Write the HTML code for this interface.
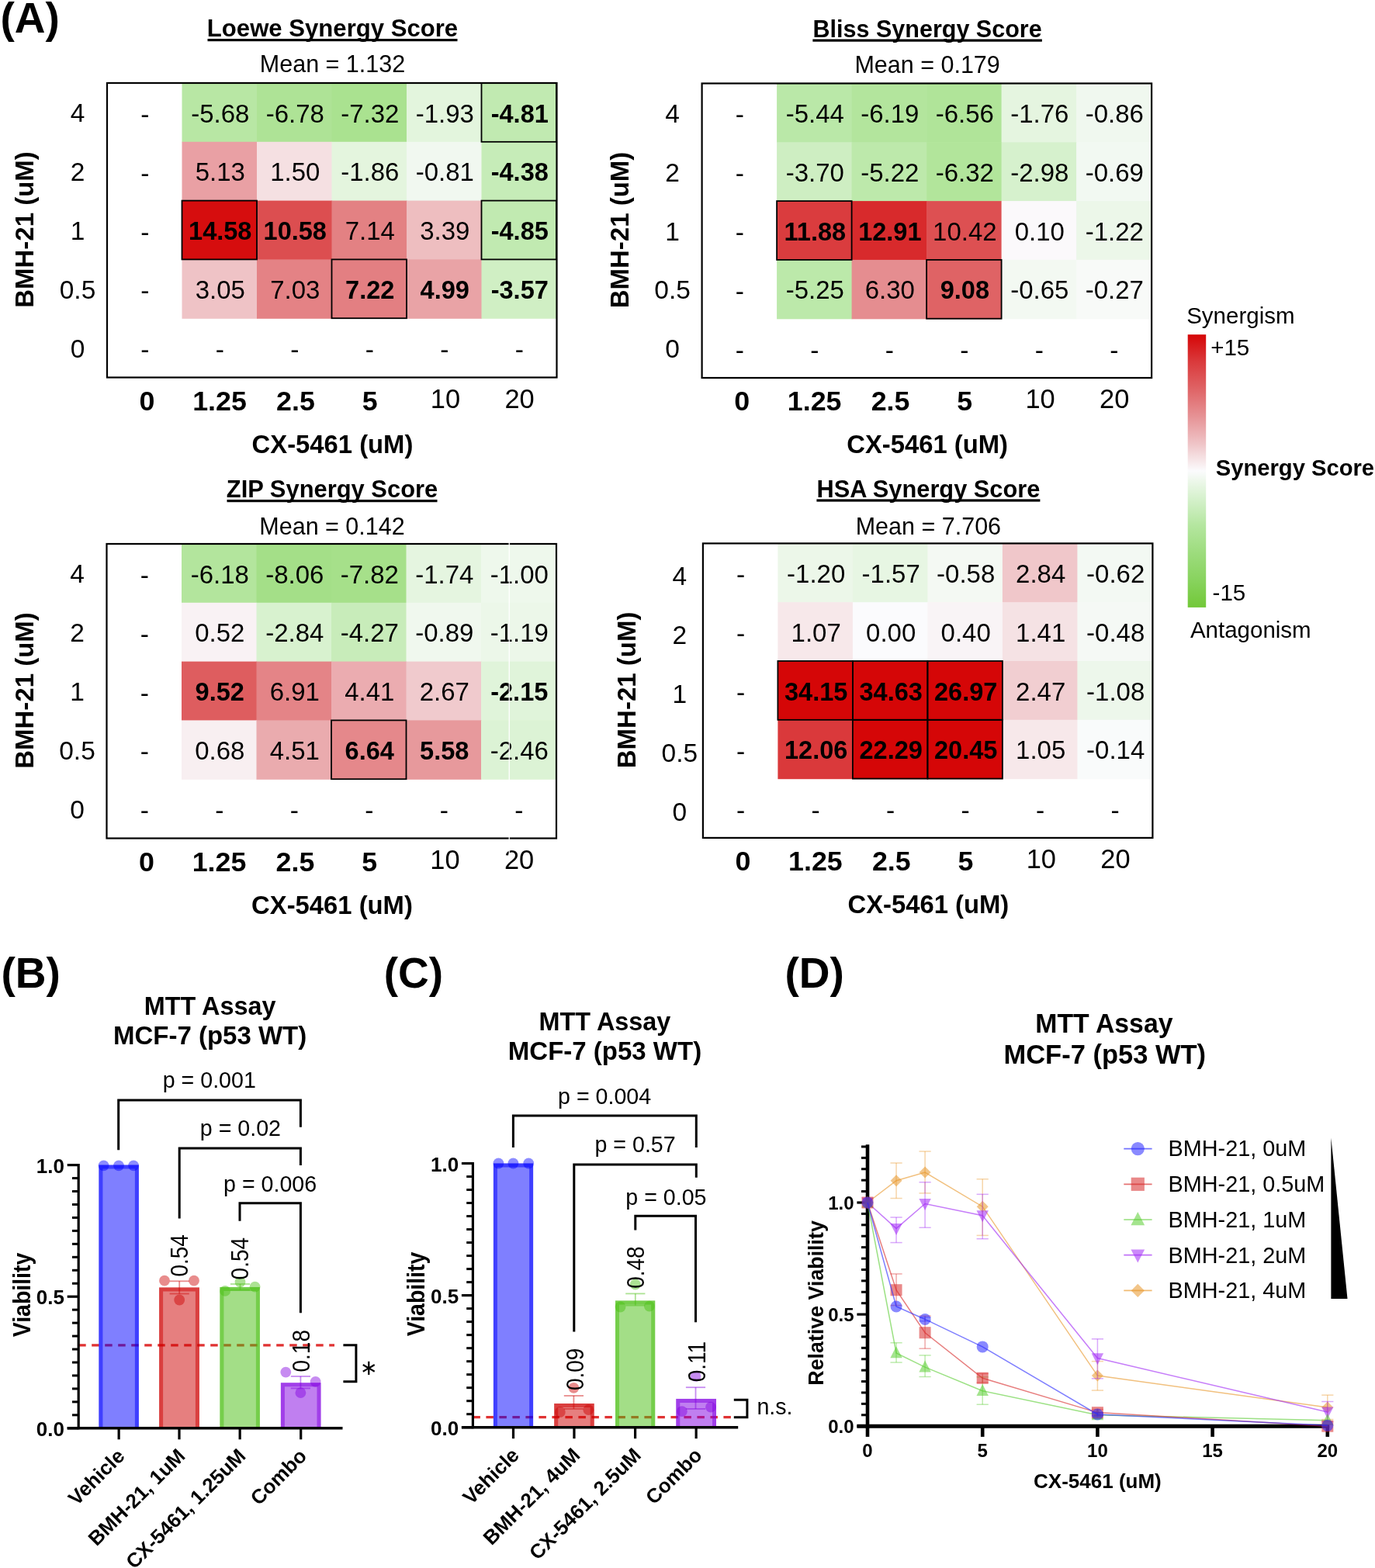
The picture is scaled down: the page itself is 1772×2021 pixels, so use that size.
<!DOCTYPE html>
<html><head><meta charset="utf-8"><title>Figure</title>
<style>
html,body{margin:0;padding:0;background:#fff;}
svg{display:block;}
text{font-family:"Liberation Sans", Arial, sans-serif;}
</style></head>
<body>
<svg width="1772" height="2021" viewBox="0 0 1772 2021">
<rect x="0" y="0" width="1772" height="2021" fill="#fff"/>
<text x="0.40" y="42.30" font-size="55" font-weight="bold" text-anchor="start" fill="#000">(A)</text>
<rect x="234.50" y="107.00" width="97.10" height="76.40" fill="#B8E7A4"/>
<rect x="331.00" y="107.00" width="97.10" height="76.40" fill="#AEE396"/>
<rect x="427.50" y="107.00" width="97.10" height="76.40" fill="#AAE290"/>
<rect x="524.00" y="107.00" width="97.10" height="76.40" fill="#E3F5DD"/>
<rect x="620.50" y="107.00" width="97.10" height="76.40" fill="#C1EAB1"/>
<rect x="234.50" y="182.80" width="97.10" height="76.40" fill="#E9A0A4"/>
<rect x="331.00" y="182.80" width="97.10" height="76.40" fill="#F5E0E2"/>
<rect x="427.50" y="182.80" width="97.10" height="76.40" fill="#E4F5DE"/>
<rect x="524.00" y="182.80" width="97.10" height="76.40" fill="#F1F8F0"/>
<rect x="620.50" y="182.80" width="97.10" height="76.40" fill="#C6ECB8"/>
<rect x="234.50" y="258.60" width="97.10" height="76.40" fill="#D60D0E"/>
<rect x="331.00" y="258.60" width="97.10" height="76.40" fill="#DC4E50"/>
<rect x="427.50" y="258.60" width="97.10" height="76.40" fill="#E38183"/>
<rect x="524.00" y="258.60" width="97.10" height="76.40" fill="#EEBEC0"/>
<rect x="620.50" y="258.60" width="97.10" height="76.40" fill="#C1EAB1"/>
<rect x="234.50" y="334.40" width="97.10" height="76.40" fill="#EFC3C6"/>
<rect x="331.00" y="334.40" width="97.10" height="76.40" fill="#E48285"/>
<rect x="427.50" y="334.40" width="97.10" height="76.40" fill="#E37F82"/>
<rect x="524.00" y="334.40" width="97.10" height="76.40" fill="#E9A3A6"/>
<rect x="620.50" y="334.40" width="97.10" height="76.40" fill="#D0EFC4"/>
<text x="186.75" y="158.90" font-size="33.5" text-anchor="middle" fill="#000">-</text>
<text transform="translate(283.75,157.50) scale(0.985,1)" font-size="33.5" text-anchor="middle">-5.68</text>
<text transform="translate(380.25,157.50) scale(0.985,1)" font-size="33.5" text-anchor="middle">-6.78</text>
<text transform="translate(476.75,157.50) scale(0.985,1)" font-size="33.5" text-anchor="middle">-7.32</text>
<text transform="translate(573.25,157.50) scale(0.985,1)" font-size="33.5" text-anchor="middle">-1.93</text>
<text transform="translate(669.75,157.50) scale(0.972,1)" font-size="33.5" font-weight="bold" text-anchor="middle">-4.81</text>
<text x="186.75" y="234.70" font-size="33.5" text-anchor="middle" fill="#000">-</text>
<text transform="translate(283.75,233.30) scale(0.985,1)" font-size="33.5" text-anchor="middle">5.13</text>
<text transform="translate(380.25,233.30) scale(0.985,1)" font-size="33.5" text-anchor="middle">1.50</text>
<text transform="translate(476.75,233.30) scale(0.985,1)" font-size="33.5" text-anchor="middle">-1.86</text>
<text transform="translate(573.25,233.30) scale(0.985,1)" font-size="33.5" text-anchor="middle">-0.81</text>
<text transform="translate(669.75,233.30) scale(0.972,1)" font-size="33.5" font-weight="bold" text-anchor="middle">-4.38</text>
<text x="186.75" y="310.50" font-size="33.5" text-anchor="middle" fill="#000">-</text>
<text transform="translate(283.75,309.10) scale(0.972,1)" font-size="33.5" font-weight="bold" text-anchor="middle">14.58</text>
<text transform="translate(380.25,309.10) scale(0.972,1)" font-size="33.5" font-weight="bold" text-anchor="middle">10.58</text>
<text transform="translate(476.75,309.10) scale(0.985,1)" font-size="33.5" text-anchor="middle">7.14</text>
<text transform="translate(573.25,309.10) scale(0.985,1)" font-size="33.5" text-anchor="middle">3.39</text>
<text transform="translate(669.75,309.10) scale(0.972,1)" font-size="33.5" font-weight="bold" text-anchor="middle">-4.85</text>
<text x="186.75" y="386.30" font-size="33.5" text-anchor="middle" fill="#000">-</text>
<text transform="translate(283.75,384.90) scale(0.985,1)" font-size="33.5" text-anchor="middle">3.05</text>
<text transform="translate(380.25,384.90) scale(0.985,1)" font-size="33.5" text-anchor="middle">7.03</text>
<text transform="translate(476.75,384.90) scale(0.972,1)" font-size="33.5" font-weight="bold" text-anchor="middle">7.22</text>
<text transform="translate(573.25,384.90) scale(0.972,1)" font-size="33.5" font-weight="bold" text-anchor="middle">4.99</text>
<text transform="translate(669.75,384.90) scale(0.972,1)" font-size="33.5" font-weight="bold" text-anchor="middle">-3.57</text>
<text x="186.75" y="462.10" font-size="33.5" text-anchor="middle" fill="#000">-</text>
<text x="283.25" y="462.10" font-size="33.5" text-anchor="middle" fill="#000">-</text>
<text x="379.75" y="462.10" font-size="33.5" text-anchor="middle" fill="#000">-</text>
<text x="476.25" y="462.10" font-size="33.5" text-anchor="middle" fill="#000">-</text>
<text x="572.75" y="462.10" font-size="33.5" text-anchor="middle" fill="#000">-</text>
<text x="669.25" y="462.10" font-size="33.5" text-anchor="middle" fill="#000">-</text>
<rect x="620.50" y="107.00" width="96.50" height="75.80" fill="none" stroke="#000" stroke-width="1.8"/>
<rect x="234.50" y="258.60" width="96.50" height="75.80" fill="none" stroke="#000" stroke-width="1.8"/>
<rect x="620.50" y="258.60" width="96.50" height="75.80" fill="none" stroke="#000" stroke-width="1.8"/>
<rect x="427.50" y="334.40" width="96.50" height="75.80" fill="none" stroke="#000" stroke-width="1.8"/>
<rect x="138.00" y="107.00" width="579.50" height="379.50" fill="none" stroke="#000" stroke-width="2.2"/>
<text transform="translate(428.50,47.20) scale(1.004,1)" font-size="31" font-weight="bold" text-anchor="middle">Loewe Synergy Score</text>
<rect x="267.50" y="50.00" width="322.00" height="3.20" fill="#000"/>
<text x="428.50" y="93.30" font-size="30.5" text-anchor="middle" fill="#000">Mean = 1.132</text>
<text x="100.00" y="157.40" font-size="33.5" text-anchor="middle" fill="#000">4</text>
<text x="100.00" y="233.20" font-size="33.5" text-anchor="middle" fill="#000">2</text>
<text x="100.00" y="309.00" font-size="33.5" text-anchor="middle" fill="#000">1</text>
<text x="100.00" y="384.80" font-size="33.5" text-anchor="middle" fill="#000">0.5</text>
<text x="100.00" y="460.60" font-size="33.5" text-anchor="middle" fill="#000">0</text>
<text x="189.55" y="528.60" font-size="35.8" font-weight="bold" text-anchor="middle" fill="#000">0</text>
<text x="283.05" y="528.60" font-size="35.8" font-weight="bold" text-anchor="middle" fill="#000">1.25</text>
<text x="380.95" y="528.60" font-size="35.8" font-weight="bold" text-anchor="middle" fill="#000">2.5</text>
<text x="476.65" y="528.60" font-size="35.8" font-weight="bold" text-anchor="middle" fill="#000">5</text>
<text x="573.95" y="525.90" font-size="34.4" text-anchor="middle" fill="#000">10</text>
<text x="669.55" y="525.90" font-size="34.4" text-anchor="middle" fill="#000">20</text>
<text x="428.50" y="583.70" font-size="32.8" font-weight="bold" text-anchor="middle" fill="#000">CX-5461 (uM)</text>
<text transform="translate(43.30,296.00) rotate(-90)" font-size="33" font-weight="bold" text-anchor="middle" fill="#000">BMH-21 (uM)</text>
<rect x="1001.10" y="107.50" width="97.10" height="76.40" fill="#BAE8A8"/>
<rect x="1097.60" y="107.50" width="97.10" height="76.40" fill="#B3E59D"/>
<rect x="1194.10" y="107.50" width="97.10" height="76.40" fill="#B0E499"/>
<rect x="1290.60" y="107.50" width="97.10" height="76.40" fill="#E5F5E0"/>
<rect x="1387.10" y="107.50" width="97.10" height="76.40" fill="#F0F8EF"/>
<rect x="1001.10" y="183.30" width="97.10" height="76.40" fill="#CEEEC2"/>
<rect x="1097.60" y="183.30" width="97.10" height="76.40" fill="#BDE9AB"/>
<rect x="1194.10" y="183.30" width="97.10" height="76.40" fill="#B2E59B"/>
<rect x="1290.60" y="183.30" width="97.10" height="76.40" fill="#D6F1CD"/>
<rect x="1387.10" y="183.30" width="97.10" height="76.40" fill="#F2F9F2"/>
<rect x="1001.10" y="259.10" width="97.10" height="76.40" fill="#DA3C3E"/>
<rect x="1097.60" y="259.10" width="97.10" height="76.40" fill="#D82A2C"/>
<rect x="1194.10" y="259.10" width="97.10" height="76.40" fill="#DD5052"/>
<rect x="1290.60" y="259.10" width="97.10" height="76.40" fill="#FBF9FB"/>
<rect x="1387.10" y="259.10" width="97.10" height="76.40" fill="#ECF7E9"/>
<rect x="1001.10" y="334.90" width="97.10" height="76.40" fill="#BCE9AA"/>
<rect x="1097.60" y="334.90" width="97.10" height="76.40" fill="#E58D90"/>
<rect x="1194.10" y="334.90" width="97.10" height="76.40" fill="#DF6365"/>
<rect x="1290.60" y="334.90" width="97.10" height="76.40" fill="#F3F9F2"/>
<rect x="1387.10" y="334.90" width="97.10" height="76.40" fill="#F8FAF8"/>
<text x="953.35" y="159.40" font-size="33.5" text-anchor="middle" fill="#000">-</text>
<text transform="translate(1050.35,158.00) scale(0.985,1)" font-size="33.5" text-anchor="middle">-5.44</text>
<text transform="translate(1146.85,158.00) scale(0.985,1)" font-size="33.5" text-anchor="middle">-6.19</text>
<text transform="translate(1243.35,158.00) scale(0.985,1)" font-size="33.5" text-anchor="middle">-6.56</text>
<text transform="translate(1339.85,158.00) scale(0.985,1)" font-size="33.5" text-anchor="middle">-1.76</text>
<text transform="translate(1436.35,158.00) scale(0.985,1)" font-size="33.5" text-anchor="middle">-0.86</text>
<text x="953.35" y="235.20" font-size="33.5" text-anchor="middle" fill="#000">-</text>
<text transform="translate(1050.35,233.80) scale(0.985,1)" font-size="33.5" text-anchor="middle">-3.70</text>
<text transform="translate(1146.85,233.80) scale(0.985,1)" font-size="33.5" text-anchor="middle">-5.22</text>
<text transform="translate(1243.35,233.80) scale(0.985,1)" font-size="33.5" text-anchor="middle">-6.32</text>
<text transform="translate(1339.85,233.80) scale(0.985,1)" font-size="33.5" text-anchor="middle">-2.98</text>
<text transform="translate(1436.35,233.80) scale(0.985,1)" font-size="33.5" text-anchor="middle">-0.69</text>
<text x="953.35" y="311.00" font-size="33.5" text-anchor="middle" fill="#000">-</text>
<text transform="translate(1050.35,309.60) scale(0.972,1)" font-size="33.5" font-weight="bold" text-anchor="middle">11.88</text>
<text transform="translate(1146.85,309.60) scale(0.972,1)" font-size="33.5" font-weight="bold" text-anchor="middle">12.91</text>
<text transform="translate(1243.35,309.60) scale(0.985,1)" font-size="33.5" text-anchor="middle">10.42</text>
<text transform="translate(1339.85,309.60) scale(0.985,1)" font-size="33.5" text-anchor="middle">0.10</text>
<text transform="translate(1436.35,309.60) scale(0.985,1)" font-size="33.5" text-anchor="middle">-1.22</text>
<text x="953.35" y="386.80" font-size="33.5" text-anchor="middle" fill="#000">-</text>
<text transform="translate(1050.35,385.40) scale(0.985,1)" font-size="33.5" text-anchor="middle">-5.25</text>
<text transform="translate(1146.85,385.40) scale(0.985,1)" font-size="33.5" text-anchor="middle">6.30</text>
<text transform="translate(1243.35,385.40) scale(0.972,1)" font-size="33.5" font-weight="bold" text-anchor="middle">9.08</text>
<text transform="translate(1339.85,385.40) scale(0.985,1)" font-size="33.5" text-anchor="middle">-0.65</text>
<text transform="translate(1436.35,385.40) scale(0.985,1)" font-size="33.5" text-anchor="middle">-0.27</text>
<text x="953.35" y="462.60" font-size="33.5" text-anchor="middle" fill="#000">-</text>
<text x="1049.85" y="462.60" font-size="33.5" text-anchor="middle" fill="#000">-</text>
<text x="1146.35" y="462.60" font-size="33.5" text-anchor="middle" fill="#000">-</text>
<text x="1242.85" y="462.60" font-size="33.5" text-anchor="middle" fill="#000">-</text>
<text x="1339.35" y="462.60" font-size="33.5" text-anchor="middle" fill="#000">-</text>
<text x="1435.85" y="462.60" font-size="33.5" text-anchor="middle" fill="#000">-</text>
<rect x="1001.10" y="259.10" width="96.50" height="75.80" fill="none" stroke="#000" stroke-width="1.8"/>
<rect x="1194.10" y="334.90" width="96.50" height="75.80" fill="none" stroke="#000" stroke-width="1.8"/>
<rect x="904.60" y="107.50" width="579.50" height="379.50" fill="none" stroke="#000" stroke-width="2.2"/>
<text transform="translate(1195.10,47.70) scale(0.985,1)" font-size="31" font-weight="bold" text-anchor="middle">Bliss Synergy Score</text>
<rect x="1047.35" y="50.50" width="295.50" height="3.20" fill="#000"/>
<text x="1195.10" y="93.80" font-size="30.5" text-anchor="middle" fill="#000">Mean = 0.179</text>
<text x="866.60" y="157.90" font-size="33.5" text-anchor="middle" fill="#000">4</text>
<text x="866.60" y="233.70" font-size="33.5" text-anchor="middle" fill="#000">2</text>
<text x="866.60" y="309.50" font-size="33.5" text-anchor="middle" fill="#000">1</text>
<text x="866.60" y="385.30" font-size="33.5" text-anchor="middle" fill="#000">0.5</text>
<text x="866.60" y="461.10" font-size="33.5" text-anchor="middle" fill="#000">0</text>
<text x="956.15" y="529.10" font-size="35.8" font-weight="bold" text-anchor="middle" fill="#000">0</text>
<text x="1049.65" y="529.10" font-size="35.8" font-weight="bold" text-anchor="middle" fill="#000">1.25</text>
<text x="1147.55" y="529.10" font-size="35.8" font-weight="bold" text-anchor="middle" fill="#000">2.5</text>
<text x="1243.25" y="529.10" font-size="35.8" font-weight="bold" text-anchor="middle" fill="#000">5</text>
<text x="1340.55" y="526.40" font-size="34.4" text-anchor="middle" fill="#000">10</text>
<text x="1436.15" y="526.40" font-size="34.4" text-anchor="middle" fill="#000">20</text>
<text x="1195.10" y="584.20" font-size="32.8" font-weight="bold" text-anchor="middle" fill="#000">CX-5461 (uM)</text>
<text transform="translate(809.90,296.50) rotate(-90)" font-size="33" font-weight="bold" text-anchor="middle" fill="#000">BMH-21 (uM)</text>
<rect x="234.00" y="701.00" width="97.10" height="76.40" fill="#B3E59D"/>
<rect x="330.50" y="701.00" width="97.10" height="76.40" fill="#A4DF88"/>
<rect x="427.00" y="701.00" width="97.10" height="76.40" fill="#A6E08A"/>
<rect x="523.50" y="701.00" width="97.10" height="76.40" fill="#E5F5E0"/>
<rect x="620.00" y="701.00" width="97.10" height="76.40" fill="#EEF8EC"/>
<rect x="234.00" y="776.80" width="97.10" height="76.40" fill="#F9F2F4"/>
<rect x="330.50" y="776.80" width="97.10" height="76.40" fill="#D8F2CF"/>
<rect x="427.00" y="776.80" width="97.10" height="76.40" fill="#C8ECBA"/>
<rect x="523.50" y="776.80" width="97.10" height="76.40" fill="#F0F8EE"/>
<rect x="620.00" y="776.80" width="97.10" height="76.40" fill="#ECF7E9"/>
<rect x="234.00" y="852.60" width="97.10" height="76.40" fill="#DE5D5F"/>
<rect x="330.50" y="852.60" width="97.10" height="76.40" fill="#E48487"/>
<rect x="427.00" y="852.60" width="97.10" height="76.40" fill="#EBACB0"/>
<rect x="523.50" y="852.60" width="97.10" height="76.40" fill="#F0CACD"/>
<rect x="620.00" y="852.60" width="97.10" height="76.40" fill="#E0F4DA"/>
<rect x="234.00" y="928.40" width="97.10" height="76.40" fill="#F8EFF1"/>
<rect x="330.50" y="928.40" width="97.10" height="76.40" fill="#EAABAE"/>
<rect x="427.00" y="928.40" width="97.10" height="76.40" fill="#E5888B"/>
<rect x="523.50" y="928.40" width="97.10" height="76.40" fill="#E7999C"/>
<rect x="620.00" y="928.40" width="97.10" height="76.40" fill="#DCF3D5"/>
<text x="186.25" y="752.90" font-size="33.5" text-anchor="middle" fill="#000">-</text>
<text transform="translate(283.25,751.50) scale(0.985,1)" font-size="33.5" text-anchor="middle">-6.18</text>
<text transform="translate(379.75,751.50) scale(0.985,1)" font-size="33.5" text-anchor="middle">-8.06</text>
<text transform="translate(476.25,751.50) scale(0.985,1)" font-size="33.5" text-anchor="middle">-7.82</text>
<text transform="translate(572.75,751.50) scale(0.985,1)" font-size="33.5" text-anchor="middle">-1.74</text>
<text transform="translate(669.25,751.50) scale(0.985,1)" font-size="33.5" text-anchor="middle">-1.00</text>
<text x="186.25" y="828.70" font-size="33.5" text-anchor="middle" fill="#000">-</text>
<text transform="translate(283.25,827.30) scale(0.985,1)" font-size="33.5" text-anchor="middle">0.52</text>
<text transform="translate(379.75,827.30) scale(0.985,1)" font-size="33.5" text-anchor="middle">-2.84</text>
<text transform="translate(476.25,827.30) scale(0.985,1)" font-size="33.5" text-anchor="middle">-4.27</text>
<text transform="translate(572.75,827.30) scale(0.985,1)" font-size="33.5" text-anchor="middle">-0.89</text>
<text transform="translate(669.25,827.30) scale(0.985,1)" font-size="33.5" text-anchor="middle">-1.19</text>
<text x="186.25" y="904.50" font-size="33.5" text-anchor="middle" fill="#000">-</text>
<text transform="translate(283.25,903.10) scale(0.972,1)" font-size="33.5" font-weight="bold" text-anchor="middle">9.52</text>
<text transform="translate(379.75,903.10) scale(0.985,1)" font-size="33.5" text-anchor="middle">6.91</text>
<text transform="translate(476.25,903.10) scale(0.985,1)" font-size="33.5" text-anchor="middle">4.41</text>
<text transform="translate(572.75,903.10) scale(0.985,1)" font-size="33.5" text-anchor="middle">2.67</text>
<text transform="translate(669.25,903.10) scale(0.972,1)" font-size="33.5" font-weight="bold" text-anchor="middle">-2.15</text>
<text x="186.25" y="980.30" font-size="33.5" text-anchor="middle" fill="#000">-</text>
<text transform="translate(283.25,978.90) scale(0.985,1)" font-size="33.5" text-anchor="middle">0.68</text>
<text transform="translate(379.75,978.90) scale(0.985,1)" font-size="33.5" text-anchor="middle">4.51</text>
<text transform="translate(476.25,978.90) scale(0.972,1)" font-size="33.5" font-weight="bold" text-anchor="middle">6.64</text>
<text transform="translate(572.75,978.90) scale(0.972,1)" font-size="33.5" font-weight="bold" text-anchor="middle">5.58</text>
<text transform="translate(669.25,978.90) scale(0.985,1)" font-size="33.5" text-anchor="middle">-2.46</text>
<text x="186.25" y="1056.10" font-size="33.5" text-anchor="middle" fill="#000">-</text>
<text x="282.75" y="1056.10" font-size="33.5" text-anchor="middle" fill="#000">-</text>
<text x="379.25" y="1056.10" font-size="33.5" text-anchor="middle" fill="#000">-</text>
<text x="475.75" y="1056.10" font-size="33.5" text-anchor="middle" fill="#000">-</text>
<text x="572.25" y="1056.10" font-size="33.5" text-anchor="middle" fill="#000">-</text>
<text x="668.75" y="1056.10" font-size="33.5" text-anchor="middle" fill="#000">-</text>
<rect x="427.00" y="928.40" width="96.50" height="75.80" fill="none" stroke="#000" stroke-width="1.8"/>
<rect x="137.50" y="701.00" width="579.50" height="379.50" fill="none" stroke="#000" stroke-width="2.2"/>
<text transform="translate(428.00,641.20) scale(0.997,1)" font-size="31" font-weight="bold" text-anchor="middle">ZIP Synergy Score</text>
<rect x="292.50" y="644.00" width="271.00" height="3.20" fill="#000"/>
<text x="428.00" y="688.60" font-size="30.5" text-anchor="middle" fill="#000">Mean = 0.142</text>
<text x="99.50" y="751.40" font-size="33.5" text-anchor="middle" fill="#000">4</text>
<text x="99.50" y="827.20" font-size="33.5" text-anchor="middle" fill="#000">2</text>
<text x="99.50" y="903.00" font-size="33.5" text-anchor="middle" fill="#000">1</text>
<text x="99.50" y="978.80" font-size="33.5" text-anchor="middle" fill="#000">0.5</text>
<text x="99.50" y="1054.60" font-size="33.5" text-anchor="middle" fill="#000">0</text>
<text x="189.05" y="1122.60" font-size="35.8" font-weight="bold" text-anchor="middle" fill="#000">0</text>
<text x="282.55" y="1122.60" font-size="35.8" font-weight="bold" text-anchor="middle" fill="#000">1.25</text>
<text x="380.45" y="1122.60" font-size="35.8" font-weight="bold" text-anchor="middle" fill="#000">2.5</text>
<text x="476.15" y="1122.60" font-size="35.8" font-weight="bold" text-anchor="middle" fill="#000">5</text>
<text x="573.45" y="1119.90" font-size="34.4" text-anchor="middle" fill="#000">10</text>
<text x="669.05" y="1119.90" font-size="34.4" text-anchor="middle" fill="#000">20</text>
<text x="428.00" y="1177.70" font-size="32.8" font-weight="bold" text-anchor="middle" fill="#000">CX-5461 (uM)</text>
<text transform="translate(42.80,890.00) rotate(-90)" font-size="33" font-weight="bold" text-anchor="middle" fill="#000">BMH-21 (uM)</text>
<rect x="1002.40" y="700.40" width="97.10" height="76.40" fill="#ECF7E9"/>
<rect x="1098.90" y="700.40" width="97.10" height="76.40" fill="#E7F6E3"/>
<rect x="1195.40" y="700.40" width="97.10" height="76.40" fill="#F4F9F3"/>
<rect x="1291.90" y="700.40" width="97.10" height="76.40" fill="#F0C7CA"/>
<rect x="1388.40" y="700.40" width="97.10" height="76.40" fill="#F3F9F3"/>
<rect x="1002.40" y="776.20" width="97.10" height="76.40" fill="#F7E8EA"/>
<rect x="1098.90" y="776.20" width="97.10" height="76.40" fill="#FBFBFD"/>
<rect x="1195.40" y="776.20" width="97.10" height="76.40" fill="#F9F4F6"/>
<rect x="1291.90" y="776.20" width="97.10" height="76.40" fill="#F5E2E4"/>
<rect x="1388.40" y="776.20" width="97.10" height="76.40" fill="#F5F9F5"/>
<rect x="1002.40" y="852.00" width="97.10" height="76.40" fill="#D50607"/>
<rect x="1098.90" y="852.00" width="97.10" height="76.40" fill="#D50607"/>
<rect x="1195.40" y="852.00" width="97.10" height="76.40" fill="#D50607"/>
<rect x="1291.90" y="852.00" width="97.10" height="76.40" fill="#F1CED1"/>
<rect x="1388.40" y="852.00" width="97.10" height="76.40" fill="#EDF7EB"/>
<rect x="1002.40" y="927.80" width="97.10" height="76.40" fill="#DA393B"/>
<rect x="1098.90" y="927.80" width="97.10" height="76.40" fill="#D50607"/>
<rect x="1195.40" y="927.80" width="97.10" height="76.40" fill="#D50607"/>
<rect x="1291.90" y="927.80" width="97.10" height="76.40" fill="#F7E8EA"/>
<rect x="1388.40" y="927.80" width="97.10" height="76.40" fill="#F9FBFB"/>
<text x="954.65" y="752.30" font-size="33.5" text-anchor="middle" fill="#000">-</text>
<text transform="translate(1051.65,750.90) scale(0.985,1)" font-size="33.5" text-anchor="middle">-1.20</text>
<text transform="translate(1148.15,750.90) scale(0.985,1)" font-size="33.5" text-anchor="middle">-1.57</text>
<text transform="translate(1244.65,750.90) scale(0.985,1)" font-size="33.5" text-anchor="middle">-0.58</text>
<text transform="translate(1341.15,750.90) scale(0.985,1)" font-size="33.5" text-anchor="middle">2.84</text>
<text transform="translate(1437.65,750.90) scale(0.985,1)" font-size="33.5" text-anchor="middle">-0.62</text>
<text x="954.65" y="828.10" font-size="33.5" text-anchor="middle" fill="#000">-</text>
<text transform="translate(1051.65,826.70) scale(0.985,1)" font-size="33.5" text-anchor="middle">1.07</text>
<text transform="translate(1148.15,826.70) scale(0.985,1)" font-size="33.5" text-anchor="middle">0.00</text>
<text transform="translate(1244.65,826.70) scale(0.985,1)" font-size="33.5" text-anchor="middle">0.40</text>
<text transform="translate(1341.15,826.70) scale(0.985,1)" font-size="33.5" text-anchor="middle">1.41</text>
<text transform="translate(1437.65,826.70) scale(0.985,1)" font-size="33.5" text-anchor="middle">-0.48</text>
<text x="954.65" y="903.90" font-size="33.5" text-anchor="middle" fill="#000">-</text>
<text transform="translate(1051.65,902.50) scale(0.972,1)" font-size="33.5" font-weight="bold" text-anchor="middle">34.15</text>
<text transform="translate(1148.15,902.50) scale(0.972,1)" font-size="33.5" font-weight="bold" text-anchor="middle">34.63</text>
<text transform="translate(1244.65,902.50) scale(0.972,1)" font-size="33.5" font-weight="bold" text-anchor="middle">26.97</text>
<text transform="translate(1341.15,902.50) scale(0.985,1)" font-size="33.5" text-anchor="middle">2.47</text>
<text transform="translate(1437.65,902.50) scale(0.985,1)" font-size="33.5" text-anchor="middle">-1.08</text>
<text x="954.65" y="979.70" font-size="33.5" text-anchor="middle" fill="#000">-</text>
<text transform="translate(1051.65,978.30) scale(0.972,1)" font-size="33.5" font-weight="bold" text-anchor="middle">12.06</text>
<text transform="translate(1148.15,978.30) scale(0.972,1)" font-size="33.5" font-weight="bold" text-anchor="middle">22.29</text>
<text transform="translate(1244.65,978.30) scale(0.972,1)" font-size="33.5" font-weight="bold" text-anchor="middle">20.45</text>
<text transform="translate(1341.15,978.30) scale(0.985,1)" font-size="33.5" text-anchor="middle">1.05</text>
<text transform="translate(1437.65,978.30) scale(0.985,1)" font-size="33.5" text-anchor="middle">-0.14</text>
<text x="954.65" y="1055.50" font-size="33.5" text-anchor="middle" fill="#000">-</text>
<text x="1051.15" y="1055.50" font-size="33.5" text-anchor="middle" fill="#000">-</text>
<text x="1147.65" y="1055.50" font-size="33.5" text-anchor="middle" fill="#000">-</text>
<text x="1244.15" y="1055.50" font-size="33.5" text-anchor="middle" fill="#000">-</text>
<text x="1340.65" y="1055.50" font-size="33.5" text-anchor="middle" fill="#000">-</text>
<text x="1437.15" y="1055.50" font-size="33.5" text-anchor="middle" fill="#000">-</text>
<rect x="1002.40" y="852.00" width="96.50" height="75.80" fill="none" stroke="#000" stroke-width="1.8"/>
<rect x="1098.90" y="852.00" width="96.50" height="75.80" fill="none" stroke="#000" stroke-width="1.8"/>
<rect x="1195.40" y="852.00" width="96.50" height="75.80" fill="none" stroke="#000" stroke-width="1.8"/>
<rect x="1098.90" y="927.80" width="96.50" height="75.80" fill="none" stroke="#000" stroke-width="1.8"/>
<rect x="1195.40" y="927.80" width="96.50" height="75.80" fill="none" stroke="#000" stroke-width="1.8"/>
<rect x="905.90" y="700.40" width="579.50" height="379.50" fill="none" stroke="#000" stroke-width="2.2"/>
<text transform="translate(1196.40,640.60) scale(0.993,1)" font-size="31" font-weight="bold" text-anchor="middle">HSA Synergy Score</text>
<rect x="1052.40" y="643.40" width="288.00" height="3.20" fill="#000"/>
<text x="1196.40" y="688.90" font-size="30.5" text-anchor="middle" fill="#000">Mean = 7.706</text>
<text x="875.90" y="754.30" font-size="33.5" text-anchor="middle" fill="#000">4</text>
<text x="875.90" y="830.10" font-size="33.5" text-anchor="middle" fill="#000">2</text>
<text x="875.90" y="905.90" font-size="33.5" text-anchor="middle" fill="#000">1</text>
<text x="875.90" y="981.70" font-size="33.5" text-anchor="middle" fill="#000">0.5</text>
<text x="875.90" y="1057.50" font-size="33.5" text-anchor="middle" fill="#000">0</text>
<text x="957.45" y="1122.00" font-size="35.8" font-weight="bold" text-anchor="middle" fill="#000">0</text>
<text x="1050.95" y="1122.00" font-size="35.8" font-weight="bold" text-anchor="middle" fill="#000">1.25</text>
<text x="1148.85" y="1122.00" font-size="35.8" font-weight="bold" text-anchor="middle" fill="#000">2.5</text>
<text x="1244.55" y="1122.00" font-size="35.8" font-weight="bold" text-anchor="middle" fill="#000">5</text>
<text x="1341.85" y="1119.30" font-size="34.4" text-anchor="middle" fill="#000">10</text>
<text x="1437.45" y="1119.30" font-size="34.4" text-anchor="middle" fill="#000">20</text>
<text x="1196.40" y="1177.10" font-size="32.8" font-weight="bold" text-anchor="middle" fill="#000">CX-5461 (uM)</text>
<text transform="translate(819.20,889.40) rotate(-90)" font-size="33" font-weight="bold" text-anchor="middle" fill="#000">BMH-21 (uM)</text>
<rect x="655.60" y="695.00" width="1.30" height="415.00" fill="#FFFFFF"/>
<defs><linearGradient id="cb" x1="0" y1="0" x2="0" y2="1"><stop offset="0.0000" stop-color="#D50607"/><stop offset="0.1000" stop-color="#DA3A3C"/><stop offset="0.2000" stop-color="#DF6466"/><stop offset="0.3000" stop-color="#E69295"/><stop offset="0.4000" stop-color="#EFC4C7"/><stop offset="0.4500" stop-color="#F5E0E2"/><stop offset="0.5000" stop-color="#FBFBFD"/><stop offset="0.5500" stop-color="#E8F6E4"/><stop offset="0.6000" stop-color="#D6F1CD"/><stop offset="0.7000" stop-color="#B4E69F"/><stop offset="0.8000" stop-color="#9DDC7D"/><stop offset="0.9000" stop-color="#88D35E"/><stop offset="1.0000" stop-color="#72C838"/></linearGradient></defs>
<rect x="1530.70" y="431.20" width="23.50" height="351.70" fill="url(#cb)"/>
<text x="1529.20" y="417.30" font-size="29.5" text-anchor="start" fill="#000">Synergism</text>
<text x="1560.20" y="457.70" font-size="29.5" text-anchor="start" fill="#000">+15</text>
<text x="1566.70" y="612.70" font-size="29.2" font-weight="bold" text-anchor="start" fill="#000">Synergy Score</text>
<text x="1562.60" y="773.90" font-size="29.5" text-anchor="start" fill="#000">-15</text>
<text x="1533.90" y="821.50" font-size="29.5" text-anchor="start" fill="#000">Antagonism</text>
<text x="1.40" y="1273.00" font-size="55" font-weight="bold" text-anchor="start" fill="#000">(B)</text>
<text x="270.60" y="1308.40" font-size="33" font-weight="bold" text-anchor="middle" fill="#000" textLength="169.8" lengthAdjust="spacingAndGlyphs">MTT Assay</text>
<text x="270.60" y="1345.60" font-size="33" font-weight="bold" text-anchor="middle" fill="#000">MCF-7 (p53 WT)</text>
<line x1="101.20" y1="1733.90" x2="431.00" y2="1733.90" stroke="#E03232" stroke-width="3.2" stroke-dasharray="9.5 7.5"/>
<rect x="127.40" y="1501.60" width="51.50" height="339.20" fill="rgba(0,0,255,0.5)"/>
<polyline points="129.90,1839.80 129.90,1504.10 176.40,1504.10 176.40,1839.80" fill="none" stroke="rgba(0,0,255,0.5)" stroke-width="5"/>
<rect x="205.10" y="1659.40" width="51.80" height="181.40" fill="rgba(205,0,0,0.5)"/>
<polyline points="207.60,1839.80 207.60,1661.90 254.40,1661.90 254.40,1839.80" fill="none" stroke="rgba(205,0,0,0.5)" stroke-width="5"/>
<rect x="283.40" y="1658.90" width="51.50" height="181.90" fill="rgba(72,190,15,0.5)"/>
<polyline points="285.90,1839.80 285.90,1661.40 332.40,1661.40 332.40,1839.80" fill="none" stroke="rgba(72,190,15,0.5)" stroke-width="5"/>
<rect x="361.90" y="1782.30" width="51.60" height="58.50" fill="rgba(130,0,225,0.5)"/>
<polyline points="364.40,1839.80 364.40,1784.80 411.00,1784.80 411.00,1839.80" fill="none" stroke="rgba(130,0,225,0.5)" stroke-width="5"/>
<circle cx="133.60" cy="1502.30" r="6.9" fill="rgba(0,0,255,0.45)"/>
<circle cx="153.00" cy="1502.30" r="6.9" fill="rgba(0,0,255,0.45)"/>
<circle cx="172.10" cy="1502.30" r="6.9" fill="rgba(0,0,255,0.45)"/>
<line x1="231.20" y1="1651.30" x2="231.20" y2="1667.50" stroke="rgba(205,0,0,0.45)" stroke-width="1.8"/>
<line x1="218.60" y1="1651.30" x2="243.80" y2="1651.30" stroke="rgba(205,0,0,0.45)" stroke-width="1.8"/>
<line x1="218.60" y1="1667.50" x2="243.80" y2="1667.50" stroke="rgba(205,0,0,0.45)" stroke-width="1.8"/>
<circle cx="212.00" cy="1650.70" r="6.9" fill="rgba(205,0,0,0.45)"/>
<circle cx="250.00" cy="1650.70" r="6.9" fill="rgba(205,0,0,0.45)"/>
<circle cx="231.20" cy="1675.50" r="6.9" fill="rgba(205,0,0,0.45)"/>
<line x1="309.50" y1="1655.00" x2="309.50" y2="1662.50" stroke="rgba(72,190,15,0.45)" stroke-width="1.8"/>
<line x1="296.90" y1="1655.00" x2="322.10" y2="1655.00" stroke="rgba(72,190,15,0.45)" stroke-width="1.8"/>
<line x1="296.90" y1="1662.50" x2="322.10" y2="1662.50" stroke="rgba(72,190,15,0.45)" stroke-width="1.8"/>
<circle cx="290.10" cy="1663.90" r="6.9" fill="rgba(72,190,15,0.45)"/>
<circle cx="328.60" cy="1658.60" r="6.9" fill="rgba(72,190,15,0.45)"/>
<circle cx="309.50" cy="1652.40" r="6.9" fill="rgba(72,190,15,0.45)"/>
<line x1="387.40" y1="1774.00" x2="387.40" y2="1789.40" stroke="rgba(130,0,225,0.45)" stroke-width="1.8"/>
<line x1="374.80" y1="1774.00" x2="400.00" y2="1774.00" stroke="rgba(130,0,225,0.45)" stroke-width="1.8"/>
<line x1="374.80" y1="1789.40" x2="400.00" y2="1789.40" stroke="rgba(130,0,225,0.45)" stroke-width="1.8"/>
<circle cx="368.30" cy="1768.60" r="6.9" fill="rgba(130,0,225,0.45)"/>
<circle cx="406.60" cy="1780.80" r="6.9" fill="rgba(130,0,225,0.45)"/>
<circle cx="387.40" cy="1795.20" r="6.9" fill="rgba(130,0,225,0.45)"/>
<line x1="101.20" y1="1500.10" x2="101.20" y2="1842.30" stroke="#000" stroke-width="3.2"/>
<line x1="86.70" y1="1840.80" x2="441.50" y2="1840.80" stroke="#000" stroke-width="3.6"/>
<line x1="86.70" y1="1840.80" x2="101.20" y2="1840.80" stroke="#000" stroke-width="3.2"/>
<line x1="93.00" y1="1823.84" x2="101.20" y2="1823.84" stroke="#000" stroke-width="3"/>
<line x1="93.00" y1="1806.88" x2="101.20" y2="1806.88" stroke="#000" stroke-width="3"/>
<line x1="93.00" y1="1789.92" x2="101.20" y2="1789.92" stroke="#000" stroke-width="3"/>
<line x1="93.00" y1="1772.96" x2="101.20" y2="1772.96" stroke="#000" stroke-width="3"/>
<line x1="93.00" y1="1756.00" x2="101.20" y2="1756.00" stroke="#000" stroke-width="3"/>
<line x1="93.00" y1="1739.04" x2="101.20" y2="1739.04" stroke="#000" stroke-width="3"/>
<line x1="93.00" y1="1722.08" x2="101.20" y2="1722.08" stroke="#000" stroke-width="3"/>
<line x1="93.00" y1="1705.12" x2="101.20" y2="1705.12" stroke="#000" stroke-width="3"/>
<line x1="93.00" y1="1688.16" x2="101.20" y2="1688.16" stroke="#000" stroke-width="3"/>
<line x1="86.70" y1="1671.20" x2="101.20" y2="1671.20" stroke="#000" stroke-width="3.2"/>
<line x1="93.00" y1="1654.24" x2="101.20" y2="1654.24" stroke="#000" stroke-width="3"/>
<line x1="93.00" y1="1637.28" x2="101.20" y2="1637.28" stroke="#000" stroke-width="3"/>
<line x1="93.00" y1="1620.32" x2="101.20" y2="1620.32" stroke="#000" stroke-width="3"/>
<line x1="93.00" y1="1603.36" x2="101.20" y2="1603.36" stroke="#000" stroke-width="3"/>
<line x1="93.00" y1="1586.40" x2="101.20" y2="1586.40" stroke="#000" stroke-width="3"/>
<line x1="93.00" y1="1569.44" x2="101.20" y2="1569.44" stroke="#000" stroke-width="3"/>
<line x1="93.00" y1="1552.48" x2="101.20" y2="1552.48" stroke="#000" stroke-width="3"/>
<line x1="93.00" y1="1535.52" x2="101.20" y2="1535.52" stroke="#000" stroke-width="3"/>
<line x1="93.00" y1="1518.56" x2="101.20" y2="1518.56" stroke="#000" stroke-width="3"/>
<line x1="86.70" y1="1501.60" x2="101.20" y2="1501.60" stroke="#000" stroke-width="3.2"/>
<text x="83.00" y="1511.80" font-size="26" font-weight="bold" text-anchor="end" fill="#000">1.0</text>
<text x="83.00" y="1681.40" font-size="26" font-weight="bold" text-anchor="end" fill="#000">0.5</text>
<text x="83.00" y="1851.00" font-size="26" font-weight="bold" text-anchor="end" fill="#000">0.0</text>
<line x1="153.15" y1="1840.80" x2="153.15" y2="1855.30" stroke="#000" stroke-width="3.2"/>
<line x1="231.00" y1="1840.80" x2="231.00" y2="1855.30" stroke="#000" stroke-width="3.2"/>
<line x1="309.15" y1="1840.80" x2="309.15" y2="1855.30" stroke="#000" stroke-width="3.2"/>
<line x1="387.70" y1="1840.80" x2="387.70" y2="1855.30" stroke="#000" stroke-width="3.2"/>
<text transform="translate(162.15,1878.30) rotate(-45)" font-size="26" font-weight="bold" text-anchor="end" fill="#000">Vehicle</text>
<text transform="translate(240.00,1878.30) rotate(-45)" font-size="26" font-weight="bold" text-anchor="end" fill="#000">BMH-21, 1uM</text>
<text transform="translate(318.15,1878.30) rotate(-45)" font-size="26" font-weight="bold" text-anchor="end" fill="#000">CX-5461, 1.25uM</text>
<text transform="translate(396.70,1878.30) rotate(-45)" font-size="26" font-weight="bold" text-anchor="end" fill="#000">Combo</text>
<text transform="translate(38.60,1669.00) rotate(-90) scale(1,1.087)" font-size="28.5" font-weight="bold" text-anchor="middle" fill="#000">Viability</text>
<polyline points="152.70,1482.20 152.70,1417.90 387.40,1417.90 387.40,1452.80" fill="none" stroke="#000" stroke-width="3"/>
<text x="269.80" y="1402.20" font-size="28.6" text-anchor="middle" fill="#000">p = 0.001</text>
<polyline points="231.20,1570.60 231.20,1480.00 387.40,1480.00 387.40,1502.00" fill="none" stroke="#000" stroke-width="3"/>
<text x="309.90" y="1463.80" font-size="28.6" text-anchor="middle" fill="#000">p = 0.02</text>
<polyline points="309.00,1573.80 309.00,1550.80 387.40,1550.80 387.40,1692.30" fill="none" stroke="#000" stroke-width="3"/>
<text x="348.10" y="1535.80" font-size="28.6" text-anchor="middle" fill="#000">p = 0.006</text>
<text transform="translate(242.00,1645.60) rotate(-90) scale(1,1.095)" font-size="28" text-anchor="start" fill="#000">0.54</text>
<text transform="translate(320.20,1649.40) rotate(-90) scale(1,1.095)" font-size="28" text-anchor="start" fill="#000">0.54</text>
<text transform="translate(398.90,1768.50) rotate(-90) scale(1,1.095)" font-size="28" text-anchor="start" fill="#000">0.18</text>
<polyline points="442.40,1733.80 458.90,1733.80 458.90,1780.80 442.40,1780.80" fill="none" stroke="#000" stroke-width="3"/>
<text x="475" y="1772.3" font-size="27.5" text-anchor="middle" style="font-family:'DejaVu Sans',sans-serif">∗</text>
<text x="494.80" y="1273.00" font-size="55" font-weight="bold" text-anchor="start" fill="#000">(C)</text>
<text x="779.50" y="1328.20" font-size="33" font-weight="bold" text-anchor="middle" fill="#000" textLength="169.8" lengthAdjust="spacingAndGlyphs">MTT Assay</text>
<text x="779.50" y="1366.30" font-size="33" font-weight="bold" text-anchor="middle" fill="#000">MCF-7 (p53 WT)</text>
<line x1="609.40" y1="1826.70" x2="942.50" y2="1826.70" stroke="#E03232" stroke-width="3.2" stroke-dasharray="9.5 7.5"/>
<rect x="635.90" y="1499.50" width="51.20" height="340.20" fill="rgba(0,0,255,0.5)"/>
<polyline points="638.40,1838.70 638.40,1502.00 684.60,1502.00 684.60,1838.70" fill="none" stroke="rgba(0,0,255,0.5)" stroke-width="5"/>
<rect x="714.20" y="1809.00" width="51.50" height="30.70" fill="rgba(205,0,0,0.5)"/>
<polyline points="716.70,1838.70 716.70,1811.50 763.20,1811.50 763.20,1838.70" fill="none" stroke="rgba(205,0,0,0.5)" stroke-width="5"/>
<rect x="793.00" y="1676.40" width="51.20" height="163.30" fill="rgba(72,190,15,0.5)"/>
<polyline points="795.50,1838.70 795.50,1678.90 841.70,1678.90 841.70,1838.70" fill="none" stroke="rgba(72,190,15,0.5)" stroke-width="5"/>
<rect x="871.30" y="1802.90" width="51.70" height="36.80" fill="rgba(130,0,225,0.5)"/>
<polyline points="873.80,1838.70 873.80,1805.40 920.50,1805.40 920.50,1838.70" fill="none" stroke="rgba(130,0,225,0.5)" stroke-width="5"/>
<circle cx="642.40" cy="1499.50" r="6.9" fill="rgba(0,0,255,0.45)"/>
<circle cx="661.40" cy="1499.50" r="6.9" fill="rgba(0,0,255,0.45)"/>
<circle cx="681.20" cy="1499.50" r="6.9" fill="rgba(0,0,255,0.45)"/>
<line x1="739.40" y1="1799.00" x2="739.40" y2="1815.90" stroke="rgba(205,0,0,0.45)" stroke-width="1.8"/>
<line x1="726.80" y1="1799.00" x2="752.00" y2="1799.00" stroke="rgba(205,0,0,0.45)" stroke-width="1.8"/>
<line x1="726.80" y1="1815.90" x2="752.00" y2="1815.90" stroke="rgba(205,0,0,0.45)" stroke-width="1.8"/>
<circle cx="739.40" cy="1788.80" r="6.9" fill="rgba(205,0,0,0.45)"/>
<circle cx="721.80" cy="1820.00" r="6.9" fill="rgba(205,0,0,0.45)"/>
<circle cx="758.40" cy="1817.20" r="6.9" fill="rgba(205,0,0,0.45)"/>
<line x1="818.80" y1="1667.40" x2="818.80" y2="1682.60" stroke="rgba(72,190,15,0.45)" stroke-width="1.8"/>
<line x1="806.20" y1="1667.40" x2="831.40" y2="1667.40" stroke="rgba(72,190,15,0.45)" stroke-width="1.8"/>
<line x1="806.20" y1="1682.60" x2="831.40" y2="1682.60" stroke="rgba(72,190,15,0.45)" stroke-width="1.8"/>
<circle cx="818.80" cy="1655.50" r="6.9" fill="rgba(72,190,15,0.45)"/>
<circle cx="799.50" cy="1684.50" r="6.9" fill="rgba(72,190,15,0.45)"/>
<circle cx="836.90" cy="1683.70" r="6.9" fill="rgba(72,190,15,0.45)"/>
<line x1="896.50" y1="1788.20" x2="896.50" y2="1815.90" stroke="rgba(130,0,225,0.45)" stroke-width="1.8"/>
<line x1="883.90" y1="1788.20" x2="909.10" y2="1788.20" stroke="rgba(130,0,225,0.45)" stroke-width="1.8"/>
<line x1="883.90" y1="1815.90" x2="909.10" y2="1815.90" stroke="rgba(130,0,225,0.45)" stroke-width="1.8"/>
<circle cx="896.50" cy="1773.90" r="6.9" fill="rgba(130,0,225,0.45)"/>
<circle cx="878.90" cy="1819.10" r="6.9" fill="rgba(130,0,225,0.45)"/>
<circle cx="916.00" cy="1813.70" r="6.9" fill="rgba(130,0,225,0.45)"/>
<line x1="609.40" y1="1498.00" x2="609.40" y2="1841.20" stroke="#000" stroke-width="3.2"/>
<line x1="594.90" y1="1839.70" x2="951.20" y2="1839.70" stroke="#000" stroke-width="3.6"/>
<line x1="594.90" y1="1839.70" x2="609.40" y2="1839.70" stroke="#000" stroke-width="3.2"/>
<line x1="601.20" y1="1822.69" x2="609.40" y2="1822.69" stroke="#000" stroke-width="3"/>
<line x1="601.20" y1="1805.68" x2="609.40" y2="1805.68" stroke="#000" stroke-width="3"/>
<line x1="601.20" y1="1788.67" x2="609.40" y2="1788.67" stroke="#000" stroke-width="3"/>
<line x1="601.20" y1="1771.66" x2="609.40" y2="1771.66" stroke="#000" stroke-width="3"/>
<line x1="601.20" y1="1754.65" x2="609.40" y2="1754.65" stroke="#000" stroke-width="3"/>
<line x1="601.20" y1="1737.64" x2="609.40" y2="1737.64" stroke="#000" stroke-width="3"/>
<line x1="601.20" y1="1720.63" x2="609.40" y2="1720.63" stroke="#000" stroke-width="3"/>
<line x1="601.20" y1="1703.62" x2="609.40" y2="1703.62" stroke="#000" stroke-width="3"/>
<line x1="601.20" y1="1686.61" x2="609.40" y2="1686.61" stroke="#000" stroke-width="3"/>
<line x1="594.90" y1="1669.60" x2="609.40" y2="1669.60" stroke="#000" stroke-width="3.2"/>
<line x1="601.20" y1="1652.59" x2="609.40" y2="1652.59" stroke="#000" stroke-width="3"/>
<line x1="601.20" y1="1635.58" x2="609.40" y2="1635.58" stroke="#000" stroke-width="3"/>
<line x1="601.20" y1="1618.57" x2="609.40" y2="1618.57" stroke="#000" stroke-width="3"/>
<line x1="601.20" y1="1601.56" x2="609.40" y2="1601.56" stroke="#000" stroke-width="3"/>
<line x1="601.20" y1="1584.55" x2="609.40" y2="1584.55" stroke="#000" stroke-width="3"/>
<line x1="601.20" y1="1567.54" x2="609.40" y2="1567.54" stroke="#000" stroke-width="3"/>
<line x1="601.20" y1="1550.53" x2="609.40" y2="1550.53" stroke="#000" stroke-width="3"/>
<line x1="601.20" y1="1533.52" x2="609.40" y2="1533.52" stroke="#000" stroke-width="3"/>
<line x1="601.20" y1="1516.51" x2="609.40" y2="1516.51" stroke="#000" stroke-width="3"/>
<line x1="594.90" y1="1499.50" x2="609.40" y2="1499.50" stroke="#000" stroke-width="3.2"/>
<text x="591.20" y="1509.70" font-size="26" font-weight="bold" text-anchor="end" fill="#000">1.0</text>
<text x="591.20" y="1679.80" font-size="26" font-weight="bold" text-anchor="end" fill="#000">0.5</text>
<text x="591.20" y="1849.90" font-size="26" font-weight="bold" text-anchor="end" fill="#000">0.0</text>
<line x1="661.50" y1="1839.70" x2="661.50" y2="1854.20" stroke="#000" stroke-width="3.2"/>
<line x1="739.95" y1="1839.70" x2="739.95" y2="1854.20" stroke="#000" stroke-width="3.2"/>
<line x1="818.60" y1="1839.70" x2="818.60" y2="1854.20" stroke="#000" stroke-width="3.2"/>
<line x1="897.15" y1="1839.70" x2="897.15" y2="1854.20" stroke="#000" stroke-width="3.2"/>
<text transform="translate(670.50,1877.20) rotate(-45)" font-size="26" font-weight="bold" text-anchor="end" fill="#000">Vehicle</text>
<text transform="translate(748.95,1877.20) rotate(-45)" font-size="26" font-weight="bold" text-anchor="end" fill="#000">BMH-21, 4uM</text>
<text transform="translate(827.60,1877.20) rotate(-45)" font-size="26" font-weight="bold" text-anchor="end" fill="#000">CX-5461, 2.5uM</text>
<text transform="translate(906.15,1877.20) rotate(-45)" font-size="26" font-weight="bold" text-anchor="end" fill="#000">Combo</text>
<text transform="translate(546.80,1668.00) rotate(-90) scale(1,1.087)" font-size="28.5" font-weight="bold" text-anchor="middle" fill="#000">Viability</text>
<polyline points="661.40,1478.90 661.40,1438.00 897.30,1438.00 897.30,1478.90" fill="none" stroke="#000" stroke-width="3"/>
<text x="779.10" y="1422.70" font-size="28.6" text-anchor="middle" fill="#000">p = 0.004</text>
<polyline points="739.80,1716.50 739.80,1500.90 897.30,1500.90 897.30,1517.80" fill="none" stroke="#000" stroke-width="3"/>
<text x="818.60" y="1484.80" font-size="28.6" text-anchor="middle" fill="#000">p = 0.57</text>
<polyline points="818.80,1585.60 818.80,1567.20 896.50,1567.20 896.50,1704.30" fill="none" stroke="#000" stroke-width="3"/>
<text x="858.40" y="1552.60" font-size="28.6" text-anchor="middle" fill="#000">p = 0.05</text>
<text transform="translate(751.60,1792.10) rotate(-90) scale(1,1.095)" font-size="28" text-anchor="start" fill="#000">0.09</text>
<text transform="translate(830.10,1660.80) rotate(-90) scale(1,1.095)" font-size="28" text-anchor="start" fill="#000">0.48</text>
<text transform="translate(908.70,1781.30) rotate(-90) scale(1,1.095)" font-size="28" text-anchor="start" fill="#000">0.11</text>
<polyline points="945.80,1804.20 962.90,1804.20 962.90,1826.70 945.80,1826.70" fill="none" stroke="#000" stroke-width="3"/>
<text x="975.40" y="1822.90" font-size="28.6" text-anchor="start" fill="#000">n.s.</text>
<text x="1011.50" y="1273.00" font-size="55" font-weight="bold" text-anchor="start" fill="#000">(D)</text>
<text x="1422.90" y="1331.30" font-size="34.5" font-weight="bold" text-anchor="middle" fill="#000" textLength="177.2" lengthAdjust="spacingAndGlyphs">MTT Assay</text>
<text x="1423.75" y="1371.10" font-size="34.5" font-weight="bold" text-anchor="middle" fill="#000">MCF-7 (p53 WT)</text>
<line x1="1118.00" y1="1475.20" x2="1118.00" y2="1840.70" stroke="#000" stroke-width="4.6"/>
<line x1="1104.40" y1="1838.25" x2="1713.20" y2="1838.25" stroke="#000" stroke-width="5"/>
<line x1="1104.40" y1="1838.20" x2="1118.00" y2="1838.20" stroke="#000" stroke-width="3.2"/>
<line x1="1110.00" y1="1823.79" x2="1118.00" y2="1823.79" stroke="#000" stroke-width="3"/>
<line x1="1110.00" y1="1809.38" x2="1118.00" y2="1809.38" stroke="#000" stroke-width="3"/>
<line x1="1110.00" y1="1794.97" x2="1118.00" y2="1794.97" stroke="#000" stroke-width="3"/>
<line x1="1110.00" y1="1780.56" x2="1118.00" y2="1780.56" stroke="#000" stroke-width="3"/>
<line x1="1110.00" y1="1766.15" x2="1118.00" y2="1766.15" stroke="#000" stroke-width="3"/>
<line x1="1110.00" y1="1751.74" x2="1118.00" y2="1751.74" stroke="#000" stroke-width="3"/>
<line x1="1110.00" y1="1737.33" x2="1118.00" y2="1737.33" stroke="#000" stroke-width="3"/>
<line x1="1110.00" y1="1722.92" x2="1118.00" y2="1722.92" stroke="#000" stroke-width="3"/>
<line x1="1110.00" y1="1708.51" x2="1118.00" y2="1708.51" stroke="#000" stroke-width="3"/>
<line x1="1104.40" y1="1694.10" x2="1118.00" y2="1694.10" stroke="#000" stroke-width="3.2"/>
<line x1="1110.00" y1="1679.69" x2="1118.00" y2="1679.69" stroke="#000" stroke-width="3"/>
<line x1="1110.00" y1="1665.28" x2="1118.00" y2="1665.28" stroke="#000" stroke-width="3"/>
<line x1="1110.00" y1="1650.87" x2="1118.00" y2="1650.87" stroke="#000" stroke-width="3"/>
<line x1="1110.00" y1="1636.46" x2="1118.00" y2="1636.46" stroke="#000" stroke-width="3"/>
<line x1="1110.00" y1="1622.05" x2="1118.00" y2="1622.05" stroke="#000" stroke-width="3"/>
<line x1="1110.00" y1="1607.64" x2="1118.00" y2="1607.64" stroke="#000" stroke-width="3"/>
<line x1="1110.00" y1="1593.23" x2="1118.00" y2="1593.23" stroke="#000" stroke-width="3"/>
<line x1="1110.00" y1="1578.82" x2="1118.00" y2="1578.82" stroke="#000" stroke-width="3"/>
<line x1="1110.00" y1="1564.41" x2="1118.00" y2="1564.41" stroke="#000" stroke-width="3"/>
<line x1="1104.40" y1="1550.00" x2="1118.00" y2="1550.00" stroke="#000" stroke-width="3.2"/>
<line x1="1110.00" y1="1535.59" x2="1118.00" y2="1535.59" stroke="#000" stroke-width="3"/>
<line x1="1110.00" y1="1521.18" x2="1118.00" y2="1521.18" stroke="#000" stroke-width="3"/>
<line x1="1110.00" y1="1506.77" x2="1118.00" y2="1506.77" stroke="#000" stroke-width="3"/>
<line x1="1110.00" y1="1492.36" x2="1118.00" y2="1492.36" stroke="#000" stroke-width="3"/>
<line x1="1110.00" y1="1477.95" x2="1118.00" y2="1477.95" stroke="#000" stroke-width="3"/>
<line x1="1118.00" y1="1838.00" x2="1118.00" y2="1851.90" stroke="#000" stroke-width="4.6"/>
<text x="1118.00" y="1878.30" font-size="24" font-weight="bold" text-anchor="middle" fill="#000">0</text>
<line x1="1266.20" y1="1838.00" x2="1266.20" y2="1851.90" stroke="#000" stroke-width="4.6"/>
<text x="1266.20" y="1878.30" font-size="24" font-weight="bold" text-anchor="middle" fill="#000">5</text>
<line x1="1414.40" y1="1838.00" x2="1414.40" y2="1851.90" stroke="#000" stroke-width="4.6"/>
<text x="1414.40" y="1878.30" font-size="24" font-weight="bold" text-anchor="middle" fill="#000">10</text>
<line x1="1562.60" y1="1838.00" x2="1562.60" y2="1851.90" stroke="#000" stroke-width="4.6"/>
<text x="1562.60" y="1878.30" font-size="24" font-weight="bold" text-anchor="middle" fill="#000">15</text>
<line x1="1710.80" y1="1838.00" x2="1710.80" y2="1851.90" stroke="#000" stroke-width="4.6"/>
<text x="1710.80" y="1878.30" font-size="24" font-weight="bold" text-anchor="middle" fill="#000">20</text>
<text x="1100.60" y="1558.60" font-size="24" font-weight="bold" text-anchor="end" fill="#000">1.0</text>
<text x="1100.60" y="1702.70" font-size="24" font-weight="bold" text-anchor="end" fill="#000">0.5</text>
<text x="1100.60" y="1846.80" font-size="24" font-weight="bold" text-anchor="end" fill="#000">0.0</text>
<text x="1414.40" y="1917.70" font-size="26" font-weight="bold" text-anchor="middle" fill="#000">CX-5461 (uM)</text>
<text transform="translate(1061.00,1679.40) rotate(-90) scale(1,1.06)" font-size="26.8" font-weight="bold" text-anchor="middle" fill="#000">Relative Viability</text>
<polyline points="1118.00,1550.00 1155.05,1521.76 1192.10,1511.09 1266.20,1555.19 1414.40,1773.07 1710.80,1813.99" fill="none" stroke="rgba(232,150,40,0.6)" stroke-width="1.5"/>
<line x1="1155.05" y1="1498.99" x2="1155.05" y2="1544.52" stroke="rgba(232,150,40,0.4)" stroke-width="1.5"/>
<line x1="1147.45" y1="1498.99" x2="1162.65" y2="1498.99" stroke="rgba(232,150,40,0.4)" stroke-width="1.5"/>
<line x1="1147.45" y1="1544.52" x2="1162.65" y2="1544.52" stroke="rgba(232,150,40,0.4)" stroke-width="1.5"/>
<line x1="1192.10" y1="1484.00" x2="1192.10" y2="1537.90" stroke="rgba(232,150,40,0.4)" stroke-width="1.5"/>
<line x1="1184.50" y1="1484.00" x2="1199.70" y2="1484.00" stroke="rgba(232,150,40,0.4)" stroke-width="1.5"/>
<line x1="1184.50" y1="1537.90" x2="1199.70" y2="1537.90" stroke="rgba(232,150,40,0.4)" stroke-width="1.5"/>
<line x1="1266.20" y1="1519.74" x2="1266.20" y2="1592.37" stroke="rgba(232,150,40,0.4)" stroke-width="1.5"/>
<line x1="1258.60" y1="1519.74" x2="1273.80" y2="1519.74" stroke="rgba(232,150,40,0.4)" stroke-width="1.5"/>
<line x1="1258.60" y1="1592.37" x2="1273.80" y2="1592.37" stroke="rgba(232,150,40,0.4)" stroke-width="1.5"/>
<line x1="1414.40" y1="1754.62" x2="1414.40" y2="1792.09" stroke="rgba(232,150,40,0.4)" stroke-width="1.5"/>
<line x1="1406.80" y1="1754.62" x2="1422.00" y2="1754.62" stroke="rgba(232,150,40,0.4)" stroke-width="1.5"/>
<line x1="1406.80" y1="1792.09" x2="1422.00" y2="1792.09" stroke="rgba(232,150,40,0.4)" stroke-width="1.5"/>
<line x1="1710.80" y1="1798.14" x2="1710.80" y2="1829.55" stroke="rgba(232,150,40,0.4)" stroke-width="1.5"/>
<line x1="1703.20" y1="1798.14" x2="1718.40" y2="1798.14" stroke="rgba(232,150,40,0.4)" stroke-width="1.5"/>
<line x1="1703.20" y1="1829.55" x2="1718.40" y2="1829.55" stroke="rgba(232,150,40,0.4)" stroke-width="1.5"/>
<polygon points="1118.00,1542.50 1125.50,1550.00 1118.00,1557.50 1110.50,1550.00" fill="rgba(232,150,40,0.55)"/>
<polygon points="1155.05,1514.26 1162.55,1521.76 1155.05,1529.26 1147.55,1521.76" fill="rgba(232,150,40,0.55)"/>
<polygon points="1192.10,1503.59 1199.60,1511.09 1192.10,1518.59 1184.60,1511.09" fill="rgba(232,150,40,0.55)"/>
<polygon points="1266.20,1547.69 1273.70,1555.19 1266.20,1562.69 1258.70,1555.19" fill="rgba(232,150,40,0.55)"/>
<polygon points="1414.40,1765.57 1421.90,1773.07 1414.40,1780.57 1406.90,1773.07" fill="rgba(232,150,40,0.55)"/>
<polygon points="1710.80,1806.49 1718.30,1813.99 1710.80,1821.49 1703.30,1813.99" fill="rgba(232,150,40,0.55)"/>
<polyline points="1118.00,1550.00 1155.05,1583.43 1192.10,1551.44 1266.20,1566.72 1414.40,1750.59 1710.80,1819.90" fill="none" stroke="rgba(160,40,245,0.6)" stroke-width="1.5"/>
<line x1="1155.05" y1="1569.02" x2="1155.05" y2="1601.59" stroke="rgba(160,40,245,0.4)" stroke-width="1.5"/>
<line x1="1147.45" y1="1569.02" x2="1162.65" y2="1569.02" stroke="rgba(160,40,245,0.4)" stroke-width="1.5"/>
<line x1="1147.45" y1="1601.59" x2="1162.65" y2="1601.59" stroke="rgba(160,40,245,0.4)" stroke-width="1.5"/>
<line x1="1192.10" y1="1523.77" x2="1192.10" y2="1582.28" stroke="rgba(160,40,245,0.4)" stroke-width="1.5"/>
<line x1="1184.50" y1="1523.77" x2="1199.70" y2="1523.77" stroke="rgba(160,40,245,0.4)" stroke-width="1.5"/>
<line x1="1184.50" y1="1582.28" x2="1199.70" y2="1582.28" stroke="rgba(160,40,245,0.4)" stroke-width="1.5"/>
<line x1="1266.20" y1="1539.34" x2="1266.20" y2="1596.69" stroke="rgba(160,40,245,0.4)" stroke-width="1.5"/>
<line x1="1258.60" y1="1539.34" x2="1273.80" y2="1539.34" stroke="rgba(160,40,245,0.4)" stroke-width="1.5"/>
<line x1="1258.60" y1="1596.69" x2="1273.80" y2="1596.69" stroke="rgba(160,40,245,0.4)" stroke-width="1.5"/>
<line x1="1414.40" y1="1725.80" x2="1414.40" y2="1776.81" stroke="rgba(160,40,245,0.4)" stroke-width="1.5"/>
<line x1="1406.80" y1="1725.80" x2="1422.00" y2="1725.80" stroke="rgba(160,40,245,0.4)" stroke-width="1.5"/>
<line x1="1406.80" y1="1776.81" x2="1422.00" y2="1776.81" stroke="rgba(160,40,245,0.4)" stroke-width="1.5"/>
<line x1="1710.80" y1="1806.50" x2="1710.80" y2="1832.44" stroke="rgba(160,40,245,0.4)" stroke-width="1.5"/>
<line x1="1703.20" y1="1806.50" x2="1718.40" y2="1806.50" stroke="rgba(160,40,245,0.4)" stroke-width="1.5"/>
<line x1="1703.20" y1="1832.44" x2="1718.40" y2="1832.44" stroke="rgba(160,40,245,0.4)" stroke-width="1.5"/>
<polygon points="1118.00,1558.62 1110.28,1543.62 1125.72,1543.62" fill="rgba(160,40,245,0.55)"/>
<polygon points="1155.05,1592.06 1147.33,1577.06 1162.77,1577.06" fill="rgba(160,40,245,0.55)"/>
<polygon points="1192.10,1560.07 1184.38,1545.07 1199.82,1545.07" fill="rgba(160,40,245,0.55)"/>
<polygon points="1266.20,1575.34 1258.48,1560.34 1273.92,1560.34" fill="rgba(160,40,245,0.55)"/>
<polygon points="1414.40,1759.21 1406.68,1744.21 1422.12,1744.21" fill="rgba(160,40,245,0.55)"/>
<polygon points="1710.80,1828.52 1703.08,1813.52 1718.52,1813.52" fill="rgba(160,40,245,0.55)"/>
<polyline points="1118.00,1550.00 1155.05,1743.96 1192.10,1762.12 1266.20,1792.66 1414.40,1823.79 1710.80,1830.71" fill="none" stroke="rgba(90,205,50,0.6)" stroke-width="1.5"/>
<line x1="1155.05" y1="1730.70" x2="1155.05" y2="1756.06" stroke="rgba(90,205,50,0.4)" stroke-width="1.5"/>
<line x1="1147.45" y1="1730.70" x2="1162.65" y2="1730.70" stroke="rgba(90,205,50,0.4)" stroke-width="1.5"/>
<line x1="1147.45" y1="1756.06" x2="1162.65" y2="1756.06" stroke="rgba(90,205,50,0.4)" stroke-width="1.5"/>
<line x1="1192.10" y1="1746.84" x2="1192.10" y2="1774.51" stroke="rgba(90,205,50,0.4)" stroke-width="1.5"/>
<line x1="1184.50" y1="1746.84" x2="1199.70" y2="1746.84" stroke="rgba(90,205,50,0.4)" stroke-width="1.5"/>
<line x1="1184.50" y1="1774.51" x2="1199.70" y2="1774.51" stroke="rgba(90,205,50,0.4)" stroke-width="1.5"/>
<line x1="1266.20" y1="1774.80" x2="1266.20" y2="1810.24" stroke="rgba(90,205,50,0.4)" stroke-width="1.5"/>
<line x1="1258.60" y1="1774.80" x2="1273.80" y2="1774.80" stroke="rgba(90,205,50,0.4)" stroke-width="1.5"/>
<line x1="1258.60" y1="1810.24" x2="1273.80" y2="1810.24" stroke="rgba(90,205,50,0.4)" stroke-width="1.5"/>
<line x1="1414.40" y1="1820.91" x2="1414.40" y2="1828.11" stroke="rgba(90,205,50,0.4)" stroke-width="1.5"/>
<line x1="1406.80" y1="1820.91" x2="1422.00" y2="1820.91" stroke="rgba(90,205,50,0.4)" stroke-width="1.5"/>
<line x1="1406.80" y1="1828.11" x2="1422.00" y2="1828.11" stroke="rgba(90,205,50,0.4)" stroke-width="1.5"/>
<polygon points="1118.00,1541.38 1110.28,1556.38 1125.72,1556.38" fill="rgba(90,205,50,0.55)"/>
<polygon points="1155.05,1735.33 1147.33,1750.33 1162.77,1750.33" fill="rgba(90,205,50,0.55)"/>
<polygon points="1192.10,1753.49 1184.38,1768.49 1199.82,1768.49" fill="rgba(90,205,50,0.55)"/>
<polygon points="1266.20,1784.04 1258.48,1799.04 1273.92,1799.04" fill="rgba(90,205,50,0.55)"/>
<polygon points="1414.40,1815.16 1406.68,1830.16 1422.12,1830.16" fill="rgba(90,205,50,0.55)"/>
<polygon points="1710.80,1822.08 1703.08,1837.08 1718.52,1837.08" fill="rgba(90,205,50,0.55)"/>
<polyline points="1118.00,1550.00 1155.05,1662.69 1192.10,1717.73 1266.20,1776.24 1414.40,1820.62 1710.80,1838.20" fill="none" stroke="rgba(215,40,40,0.6)" stroke-width="1.5"/>
<line x1="1155.05" y1="1641.94" x2="1155.05" y2="1682.57" stroke="rgba(215,40,40,0.4)" stroke-width="1.5"/>
<line x1="1147.45" y1="1641.94" x2="1162.65" y2="1641.94" stroke="rgba(215,40,40,0.4)" stroke-width="1.5"/>
<line x1="1147.45" y1="1682.57" x2="1162.65" y2="1682.57" stroke="rgba(215,40,40,0.4)" stroke-width="1.5"/>
<line x1="1192.10" y1="1696.12" x2="1192.10" y2="1738.19" stroke="rgba(215,40,40,0.4)" stroke-width="1.5"/>
<line x1="1184.50" y1="1696.12" x2="1199.70" y2="1696.12" stroke="rgba(215,40,40,0.4)" stroke-width="1.5"/>
<line x1="1184.50" y1="1738.19" x2="1199.70" y2="1738.19" stroke="rgba(215,40,40,0.4)" stroke-width="1.5"/>
<line x1="1266.20" y1="1770.47" x2="1266.20" y2="1782.00" stroke="rgba(215,40,40,0.4)" stroke-width="1.5"/>
<line x1="1258.60" y1="1770.47" x2="1273.80" y2="1770.47" stroke="rgba(215,40,40,0.4)" stroke-width="1.5"/>
<line x1="1258.60" y1="1782.00" x2="1273.80" y2="1782.00" stroke="rgba(215,40,40,0.4)" stroke-width="1.5"/>
<line x1="1414.40" y1="1816.59" x2="1414.40" y2="1824.37" stroke="rgba(215,40,40,0.4)" stroke-width="1.5"/>
<line x1="1406.80" y1="1816.59" x2="1422.00" y2="1816.59" stroke="rgba(215,40,40,0.4)" stroke-width="1.5"/>
<line x1="1406.80" y1="1824.37" x2="1422.00" y2="1824.37" stroke="rgba(215,40,40,0.4)" stroke-width="1.5"/>
<rect x="1110.50" y="1542.50" width="15.00" height="15.00" fill="rgba(215,40,40,0.55)"/>
<rect x="1147.55" y="1655.19" width="15.00" height="15.00" fill="rgba(215,40,40,0.55)"/>
<rect x="1184.60" y="1710.23" width="15.00" height="15.00" fill="rgba(215,40,40,0.55)"/>
<rect x="1258.70" y="1768.74" width="15.00" height="15.00" fill="rgba(215,40,40,0.55)"/>
<rect x="1406.90" y="1813.12" width="15.00" height="15.00" fill="rgba(215,40,40,0.55)"/>
<rect x="1703.30" y="1830.70" width="15.00" height="15.00" fill="rgba(215,40,40,0.55)"/>
<polyline points="1118.00,1550.00 1155.05,1684.01 1192.10,1700.44 1266.20,1735.89 1414.40,1822.93 1710.80,1837.34" fill="none" stroke="rgba(40,40,255,0.6)" stroke-width="1.5"/>
<line x1="1192.10" y1="1697.85" x2="1192.10" y2="1702.75" stroke="rgba(40,40,255,0.4)" stroke-width="1.5"/>
<line x1="1184.50" y1="1697.85" x2="1199.70" y2="1697.85" stroke="rgba(40,40,255,0.4)" stroke-width="1.5"/>
<line x1="1184.50" y1="1702.75" x2="1199.70" y2="1702.75" stroke="rgba(40,40,255,0.4)" stroke-width="1.5"/>
<line x1="1414.40" y1="1820.91" x2="1414.40" y2="1825.23" stroke="rgba(40,40,255,0.4)" stroke-width="1.5"/>
<line x1="1406.80" y1="1820.91" x2="1422.00" y2="1820.91" stroke="rgba(40,40,255,0.4)" stroke-width="1.5"/>
<line x1="1406.80" y1="1825.23" x2="1422.00" y2="1825.23" stroke="rgba(40,40,255,0.4)" stroke-width="1.5"/>
<circle cx="1118.00" cy="1550.00" r="7.50" fill="rgba(40,40,255,0.55)"/>
<circle cx="1155.05" cy="1684.01" r="7.50" fill="rgba(40,40,255,0.55)"/>
<circle cx="1192.10" cy="1700.44" r="7.50" fill="rgba(40,40,255,0.55)"/>
<circle cx="1266.20" cy="1735.89" r="7.50" fill="rgba(40,40,255,0.55)"/>
<circle cx="1414.40" cy="1822.93" r="7.50" fill="rgba(40,40,255,0.55)"/>
<circle cx="1710.80" cy="1837.34" r="7.50" fill="rgba(40,40,255,0.55)"/>
<line x1="1448.30" y1="1480.60" x2="1484.60" y2="1480.60" stroke="rgba(40,40,255,0.65)" stroke-width="1.7"/>
<circle cx="1466.30" cy="1480.60" r="8.60" fill="rgba(40,40,255,0.55)"/>
<text x="1505.60" y="1490.40" font-size="28.8" text-anchor="start" fill="#000">BMH-21, 0uM</text>
<line x1="1448.30" y1="1526.30" x2="1484.60" y2="1526.30" stroke="rgba(215,40,40,0.65)" stroke-width="1.7"/>
<rect x="1457.70" y="1517.70" width="17.20" height="17.20" fill="rgba(215,40,40,0.55)"/>
<text x="1505.60" y="1536.10" font-size="28.8" text-anchor="start" fill="#000">BMH-21, 0.5uM</text>
<line x1="1448.30" y1="1572.00" x2="1484.60" y2="1572.00" stroke="rgba(90,205,50,0.65)" stroke-width="1.7"/>
<polygon points="1466.30,1562.11 1457.44,1579.31 1475.16,1579.31" fill="rgba(90,205,50,0.55)"/>
<text x="1505.60" y="1581.80" font-size="28.8" text-anchor="start" fill="#000">BMH-21, 1uM</text>
<line x1="1448.30" y1="1617.70" x2="1484.60" y2="1617.70" stroke="rgba(160,40,245,0.65)" stroke-width="1.7"/>
<polygon points="1466.30,1627.59 1457.44,1610.39 1475.16,1610.39" fill="rgba(160,40,245,0.55)"/>
<text x="1505.60" y="1627.50" font-size="28.8" text-anchor="start" fill="#000">BMH-21, 2uM</text>
<line x1="1448.30" y1="1663.40" x2="1484.60" y2="1663.40" stroke="rgba(232,150,40,0.65)" stroke-width="1.7"/>
<polygon points="1466.30,1654.80 1474.90,1663.40 1466.30,1672.00 1457.70,1663.40" fill="rgba(232,150,40,0.55)"/>
<text x="1505.60" y="1673.20" font-size="28.8" text-anchor="start" fill="#000">BMH-21, 4uM</text>
<polygon points="1715.40,1466.80 1715.40,1673.90 1736.50,1673.90" fill="#000"/>
</svg>
</body></html>
